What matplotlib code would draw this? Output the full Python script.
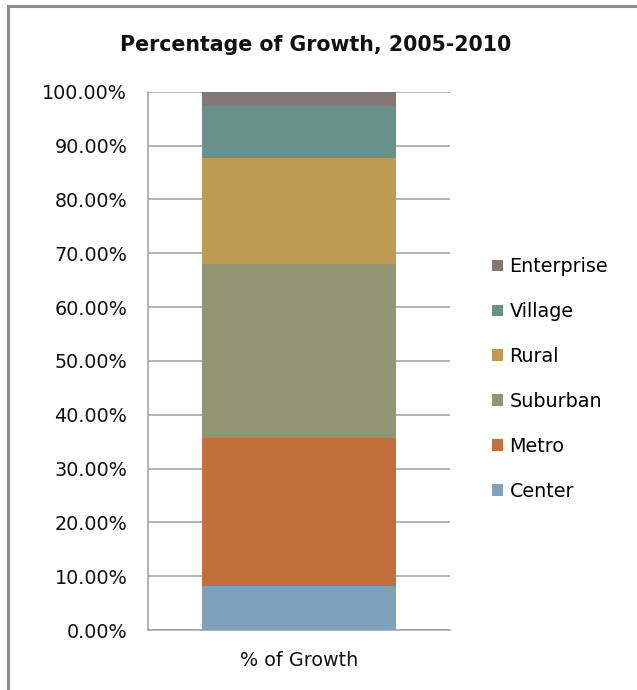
import matplotlib
matplotlib.use("Agg")
import matplotlib.pyplot as plt
from matplotlib.patches import Rectangle
from matplotlib.ticker import FuncFormatter

plt.rcParams['font.family'] = ['DejaVu Sans']

category = "% of Growth"
series = ["Center", "Metro", "Suburban", "Rural", "Village", "Enterprise"]
shares = [8.2, 27.4, 32.4, 19.7, 9.6, 2.7]
colors = ["#7fa1bb", "#c3703d", "#929670", "#bd9b51", "#6a9187", "#847877"]
y_ticks = [0, 10, 20, 30, 40, 50, 60, 70, 80, 90, 100]

W, H = 637, 690
fig = plt.figure(figsize=(W / 100, H / 100), dpi=100)

# outer chart frame
fig.patches.append(Rectangle((8 / W, -0.05), 1.1, (H - 6) / H + 0.05,
                             transform=fig.transFigure, fill=False,
                             edgecolor="#8c8c8c", linewidth=2.2))

ax = fig.add_axes([148 / W, (H - 630) / H, (450 - 148) / W, (630 - 91.7) / H])

bottom = 0.0
handles = []
for name, val, col in zip(series, shares, colors):
    b = ax.bar([0], [val], bottom=bottom, width=0.64, color=col, label=name, zorder=3)
    handles.append(b)
    bottom += val

ax.set_xlim(-0.5, 0.5)
ax.set_ylim(0, 100)
ax.set_yticks(y_ticks)
ax.yaxis.set_major_formatter(FuncFormatter(lambda v, p: f"{v:.2f}%"))
ax.set_xticks([0])
ax.set_xticklabels([category])
ax.tick_params(axis="y", length=0, pad=15, labelsize=13.8, labelcolor="#111111")
ax.tick_params(axis="x", length=0, pad=15, labelsize=13.8, labelcolor="#111111")
ax.grid(axis="y", color="#a6a6a6", linewidth=1.2, zorder=0)
for s in ["top", "right"]:
    ax.spines[s].set_visible(False)
for s in ["left", "bottom"]:
    ax.spines[s].set_color("#a6a6a6")
    ax.spines[s].set_linewidth(1.2)

fig.text(316 / W, 1 - 45 / H, "Percentage of Growth, 2005-2010",
         ha="center", va="center", fontsize=14.8, fontweight="bold", color="#111111")

leg = fig.legend(handles[::-1], series[::-1], loc="upper left",
                 bbox_to_anchor=(475 / W, 1 - 240 / H), frameon=False,
                 fontsize=13.8, handlelength=0.55, handleheight=0.55,
                 handletextpad=0.35, labelspacing=1.35)

fig.savefig("out.png", dpi=100)
